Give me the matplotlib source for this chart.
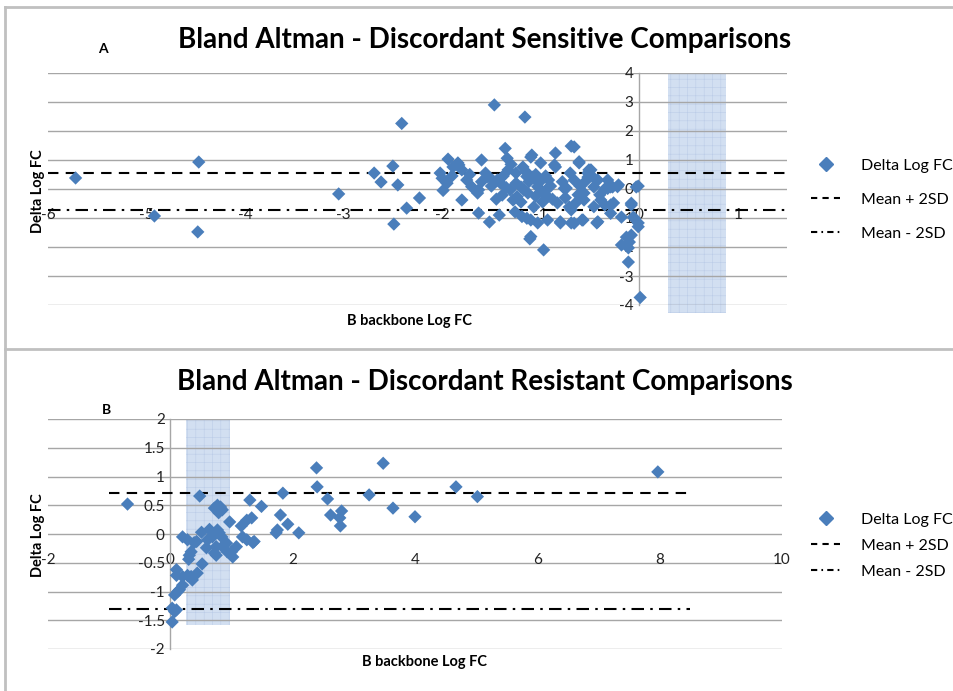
import matplotlib
matplotlib.use("Agg")
import matplotlib.pyplot as plt
from matplotlib.lines import Line2D

plt.rcParams["font.family"] = ["Lato", "DejaVu Sans"]
plt.rcParams["hatch.linewidth"] = 0.4

# ---- panel A: discordant sensitive ----
a_x = [-5.72, -4.47, -4.92, -4.48,
       -3.05, -2.69, -2.62, -2.50, -2.45, -2.41, -2.49, -2.36, -2.23,
       -2.00, -2.02, -1.94, -1.99, -1.95, -1.80, -1.89, -1.84, -1.83, -1.80,
       -1.75, -1.70, -1.64, -1.63, -1.60, -1.63, -1.52, -1.47, -1.42, -1.56,
       -1.54, -1.49, -1.44, -1.41, -1.39, -1.36, -1.34, -1.33, -1.28, -1.31,
       -1.26, -1.24, -1.18, -1.16, -1.20, -1.17, -1.13, -1.10, -1.09, -1.14,
       -1.08, -1.07, -1.10, -1.14, -1.03, -1.11, -1.10, -1.19, -1.02, -1.03,
       -1.00, -0.97, -0.97, -0.93, -0.92, -0.93, -0.85, -0.85, -0.86, -0.83,
       -0.80, -0.80, -0.76, -0.74, -0.69, -0.66, -0.69, -0.66, -0.71, -0.69,
       -0.66, -0.61, -0.61, -0.56, -0.57, -0.58, -0.56, -0.52, -0.52, -0.51,
       -0.49, -0.46, -0.46, -0.46, -0.43, -0.42, -0.42, -0.39, -0.35, -0.32,
       -0.32, -0.29, -0.29, -0.29, -0.27, -0.26, -0.22, -0.21, -0.18, -0.13,
       -0.18, -0.11, -0.08, -0.08, -0.06, -0.05, -0.01, -0.01, -0.08, -0.10,
       -0.11, 0.01, -0.01, -0.03,
       -1.15, -1.05, -0.95, -1.12, -1.00, -0.90, -0.95, -1.05, -0.88, -1.20,
       -0.98, -1.25, -1.35, -1.45, -1.50, -1.38, -0.78, -0.75, -0.62, -0.60,
       -0.40, -0.35, -0.55, -0.65, -0.70, -1.30, -1.25, -1.60, -1.72, -1.90]
a_y = [0.38, 0.93, -0.93, -1.48,
       -0.17, 0.55, 0.24, 0.79, 0.14, 2.26, -1.21, -0.66, -0.31,
       0.37, 0.55, 1.03, -0.05, 0.20, -0.38, 0.76, 0.90, 0.83, 0.66,
       0.31, 0.08, -0.14, -0.03, 1.00, -0.83, -1.14, 2.90, -0.90, 0.55,
       0.43, 0.31, 0.31, 0.21, -0.21, 1.40, 1.06, 0.66, -0.38, -0.03,
       -0.79, -0.26, 0.76, 2.48, 0.07, -0.03, -0.14, 1.10, 1.17, 0.43,
       0.41, -0.62, -1.07, -1.01, -1.17, -1.72, -1.64, -0.95, 0.21, 0.08,
       0.90, -2.10, -0.14, -0.26, 0.31, -1.07, 1.24, 0.76, 0.83, -0.48,
       -1.17, -1.13, 0.02, 0.03, -1.17, -1.18, 1.48, 1.45, -0.62, -0.72,
       0.31, 0.90, 0.94, -0.14, -1.07, -1.07, -0.38, 0.41, 0.55, 0.66,
       0.66, 0.07, 0.38, -0.61, -1.17, -1.13, 0.31, -0.38, -0.55, 0.31,
       0.02, 0.07, -0.55, -0.84, 0.07, -0.48, 0.08, 0.14, -0.97, -1.66,
       -1.93, -2.52, -0.55, -0.49, -0.97, -1.01, -1.17, 0.10, -1.59, -1.83,
       -2.03, -3.74, -1.30, 0.07,
       0.60, 0.50, 0.45, 0.25, 0.30, 0.10, -0.05, -0.25, -0.35, -0.45,
       -0.45, 0.20, 0.05, -0.35, 0.10, 0.45, 0.25, -0.30, -0.20, 0.10,
       -0.20, 0.00, 0.25, -0.50, 0.55, 0.85, 0.55, 0.25, 0.50, 0.45]
a_mean_x = [-6.0, 1.5]
a_upper = [0.55, 0.55]
a_lower = [-0.72, -0.72]
a_band = (0.29, 0.88)
a_xticks = [-6, -5, -4, -3, -2, -1, 0, 1]
a_yticks = [-4, -3, -2, -1, 0, 1, 2, 3, 4]

# ---- panel B: discordant resistant ----
b_x = [-0.70, 0.48, 0.20, 0.28, 0.39, 0.31, 0.30, 0.51, 0.64, 0.52,
       0.10, 0.10, 0.20, 0.28, 0.36, 0.44, 0.20, 0.15, 0.07, 0.12,
       0.03, 0.07, 0.03,
       0.72, 0.82, 0.79, 0.61, 0.69, 0.80, 0.75, 0.75, 0.92, 0.97,
       1.02, 1.08, 1.00, 1.16, 1.18, 1.30, 1.49, 1.25, 1.33, 1.25,
       1.35, 1.37, 1.84, 1.80, 1.75, 1.73, 1.92, 2.10, 2.39, 2.40,
       2.57, 2.62, 2.80, 2.77, 2.78, 3.25, 3.48, 3.64, 4.00, 4.67,
       5.02, 7.97,
       0.43, 0.59, 0.72, 0.85, 0.93, 0.34, 0.34, 0.10, 0.84, 0.77,
       0.85, 0.77]
b_y = [0.52, 0.66, -0.05, -0.10, -0.15, -0.37, -0.44, 0.03, 0.08, -0.52,
       -0.62, -0.72, -0.74, -0.72, -0.80, -0.68, -0.89, -0.97, -1.06, -1.00,
       -1.29, -1.35, -1.53,
       0.45, 0.47, 0.37, -0.10, -0.05, 0.02, -0.22, -0.37, -0.16, 0.21,
       -0.40, -0.22, -0.31, 0.14, -0.05, 0.59, 0.48, 0.24, 0.28, -0.10,
       -0.15, -0.13, 0.71, 0.33, 0.07, 0.02, 0.17, 0.02, 1.15, 0.82,
       0.61, 0.33, 0.40, 0.28, 0.14, 0.68, 1.23, 0.45, 0.30, 0.82,
       0.65, 1.08,
       -0.13, -0.24, -0.33, -0.22, -0.31, -0.31, -0.74, -1.32, -0.05, 0.07,
       0.42, 0.50]
b_mean_x = [-1.0, 8.5]
b_upper = [0.71, 0.71]
b_lower = [-1.30, -1.30]
b_band = (0.26, 0.98)
b_xticks = [-2, 0, 2, 4, 6, 8, 10]
b_yticks = [-2, -1.5, -1, -0.5, 0, 0.5, 1, 1.5, 2]

BLUE = "#4a7ebb"
GRID = "#a6a6a6"


def fmt(v):
    return f"{v:g}"


def draw_panel(ax, xs, ys, mean_x, upper, lower, band, xticks, yticks,
               xlim, ylim, xaxis_at, band_bottom):
    ax.set_xlim(*xlim)
    ax.set_ylim(*ylim)
    for yv in yticks:
        ax.axhline(yv, color=GRID, lw=1.0, zorder=1)
    ax.axvspan(band[0], band[1], ymin=band_bottom, ymax=1.0,
               facecolor="#d2dff1", edgecolor="#bccde8", hatch="++",
               lw=0, zorder=0.5, clip_on=False)
    ax.plot(mean_x, upper, color="black", lw=1.5, ls=(0, (5, 3.5)), zorder=3)
    ax.plot(mean_x, lower, color="black", lw=1.5,
            ls=(0, (6, 3, 1.2, 3)), zorder=3)
    ax.scatter(xs, ys, marker="D", s=46, color=BLUE, edgecolors="none",
               zorder=4)

    for side in ("top", "right"):
        ax.spines[side].set_visible(False)
    ax.spines["left"].set_position(("data", 0))
    ax.spines["left"].set_color(GRID)
    ax.spines["left"].set_linewidth(1.0)
    ax.spines["bottom"].set_position(("data", xaxis_at))
    ax.spines["bottom"].set_visible(False)

    ax.set_xticks(xticks)
    ax.set_xticklabels([fmt(v) for v in xticks])
    ax.set_yticks(yticks)
    ax.set_yticklabels([fmt(v) for v in yticks])
    ax.tick_params(axis="both", length=0, labelsize=11, colors="#222222")
    ax.tick_params(axis="x", pad=1)
    ax.tick_params(axis="y", pad=4)
    ax.set_facecolor("none")


def legend_for(fig, anchor, spacing):
    handles = [
        Line2D([], [], marker="D", ls="none", color=BLUE, markersize=7),
        Line2D([], [], color="black", lw=1.5, ls=(0, (3, 2.5))),
        Line2D([], [], color="black", lw=1.5, ls=(0, (3, 2, 0.8, 2))),
    ]
    labels = ["Delta Log FC", "Mean + 2SD", "Mean - 2SD"]
    fig.legend(handles, labels, loc="upper left", bbox_to_anchor=anchor,
               frameon=False, fontsize=11.5, handlelength=1.8,
               handletextpad=1.3, labelspacing=spacing, borderaxespad=0)


W, H = 954, 691
fig = plt.figure(figsize=(W / 100, H / 100), dpi=100)

# outer frame lines of the two chart boxes
frame_kw = dict(color="#c0c0c0", lw=2, transform=fig.transFigure)
fig.add_artist(Line2D([5 / W, 5 / W], [0, 1 - 7 / H], **frame_kw))
fig.add_artist(Line2D([5 / W, 1], [1 - 7 / H, 1 - 7 / H], **frame_kw))
fig.add_artist(Line2D([5 / W, 1], [1 - 349 / H, 1 - 349 / H], **frame_kw))

ax_a = fig.add_axes([48 / W, (H - 305) / H, 739 / W, 232 / H])
draw_panel(ax_a, a_x, a_y, a_mean_x, a_upper, a_lower, a_band,
           a_xticks, a_yticks, (-6, 1.5), (-4, 4), -0.62, -0.035)

ax_b = fig.add_axes([48 / W, (H - 649) / H, 734 / W, 230 / H])
draw_panel(ax_b, b_x, b_y, b_mean_x, b_upper, b_lower, b_band,
           b_xticks, b_yticks, (-2, 10), (-2, 2), -0.30, 0.105)

title_kw = dict(fontsize=20, fontweight="bold", ha="center", va="center")
fig.text(485 / W, 1 - 40 / H, "Bland Altman - Discordant Sensitive Comparisons",
         **title_kw)
fig.text(485 / W, 1 - 382 / H, "Bland Altman - Discordant Resistant Comparisons",
         **title_kw)
fig.text(103 / W, 1 - 49 / H, "A", fontsize=10, fontweight="bold",
         ha="center", va="center")
fig.text(107 / W, 1 - 410 / H, "B", fontsize=10, fontweight="bold",
         ha="center", va="center")

lab_kw = dict(fontsize=10.5, fontweight="bold", ha="center", va="center")
fig.text(38 / W, 1 - 191 / H, "Delta Log FC", rotation=90, **lab_kw)
fig.text(410 / W, 1 - 321 / H, "B backbone Log FC", **lab_kw)
fig.text(38 / W, 1 - 535 / H, "Delta Log FC", rotation=90, **lab_kw)
fig.text(425 / W, 1 - 662 / H, "B backbone Log FC", **lab_kw)

legend_for(fig, (805 / W, 1 - 152 / H), 1.25)
legend_for(fig, (805 / W, 1 - 506 / H), 0.75)

fig.savefig("out.png", dpi=100)
